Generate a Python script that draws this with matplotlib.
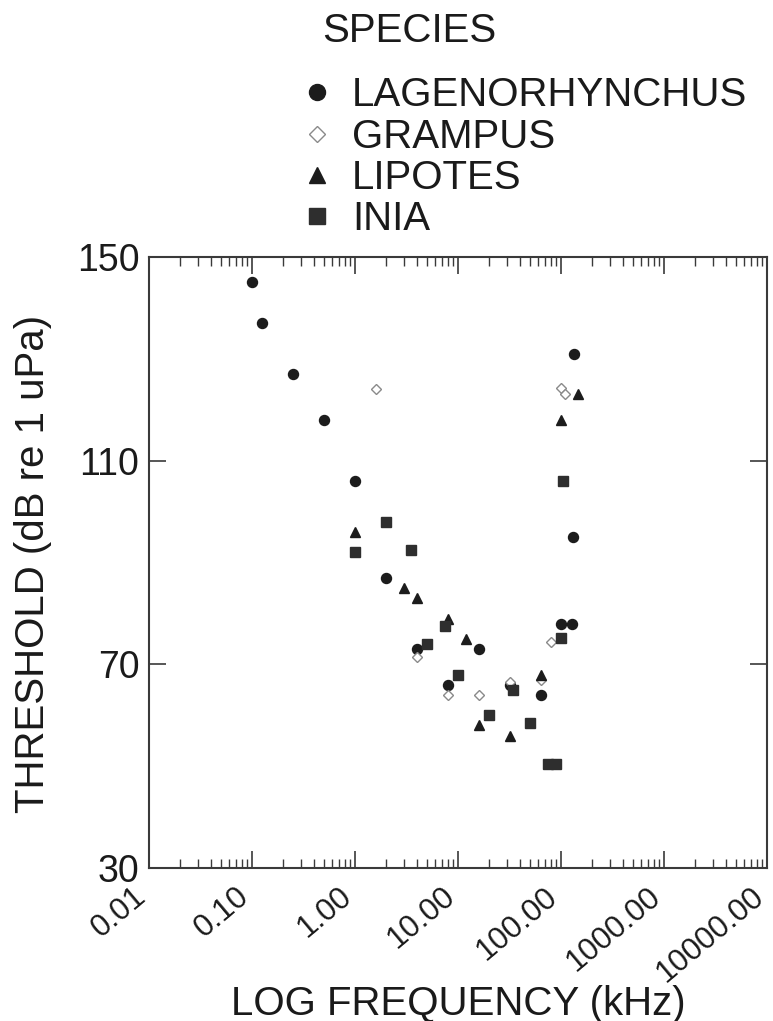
import matplotlib
matplotlib.use("Agg")
import matplotlib.pyplot as plt
import matplotlib.transforms as mtransforms
from matplotlib.ticker import LogLocator, FixedLocator, NullFormatter, FixedFormatter

plt.rcParams['font.family'] = ['Liberation Sans', 'DejaVu Sans']

# ---- data (kHz, dB re 1 uPa) ----
lag_freq = [0.1, 0.125, 0.25, 0.5, 1, 2, 4, 8, 16, 32, 64, 100, 128, 130, 135]
lag_thr = [145, 137, 127, 118, 106, 87, 73, 66, 73, 66, 64, 78, 78, 95, 131]

gra_freq = [1.6, 4, 8, 16, 32, 64, 80, 100, 109]
gra_thr = [124, 71.5, 64, 64, 66.6, 67, 74.3, 124.2, 123]

lip_freq = [1, 3, 4, 8, 12, 16, 32, 64, 100, 147]
lip_thr = [96, 85, 83, 79, 75, 58, 56, 68, 118, 123]

ini_freq = [1, 2, 3.5, 5, 7.5, 10, 20, 34, 50, 75, 90, 100, 104]
ini_thr = [92, 98, 92.5, 74, 77.5, 68, 60, 65, 58.5, 50.5, 50.5, 75.2, 106]

species = ["LAGENORHYNCHUS", "GRAMPUS", "LIPOTES", "INIA"]
x_ticks = [0.01, 0.1, 1, 10, 100, 1000, 10000]
x_tick_labels = ["0.01", "0.10", "1.00", "10.00", "100.00", "1000.00", "10000.00"]
y_ticks = [30, 70, 110, 150]

W, H = 773, 1021
fig = plt.figure(figsize=(W / 100, H / 100), dpi=100)
ax = fig.add_axes([149 / W, 1 - 868 / H, 618 / W, 611 / H])

dark = "#1c1c1c"
ax.plot(lag_freq, lag_thr, linestyle="none", marker="o", markersize=7.2,
        color=dark, mec=dark, label=species[0])
ax.plot(gra_freq, gra_thr, linestyle="none", marker="D", markersize=5.4,
        mfc="white", mec="#8a8a8a", mew=1.0, label=species[1])
ax.plot(lip_freq, lip_thr, linestyle="none", marker="^", markersize=7.2,
        color=dark, mec=dark, label=species[2])
ax.plot(ini_freq, ini_thr, linestyle="none", marker="s", markersize=7.0,
        color="#2e2e2e", mec="#2e2e2e", label=species[3])

ax.set_xscale("log")
ax.set_xlim(0.01, 10000)
ax.set_ylim(30, 150)

ax.xaxis.set_major_locator(FixedLocator(x_ticks))
ax.xaxis.set_major_formatter(FixedFormatter(x_tick_labels))
ax.xaxis.set_minor_locator(LogLocator(base=10, subs=range(2, 10), numticks=20))
ax.xaxis.set_minor_formatter(NullFormatter())
ax.set_yticks(y_ticks)
ax.set_yticklabels([str(v) for v in y_ticks])

spine_c = "#3a3a3a"
for s in ax.spines.values():
    s.set_color(spine_c)
    s.set_linewidth(1.5)

ax.tick_params(axis="both", which="major", direction="in", length=12.5,
               width=1.2, color=spine_c, top=True, right=True)
ax.tick_params(axis="x", which="minor", direction="in", length=6.5,
               width=1.0, color=spine_c, top=True, bottom=True)
ax.tick_params(axis="y", labelsize=27, pad=7, labelcolor="#1a1a1a")
ax.tick_params(axis="x", labelsize=22.5, pad=18, labelcolor="#1a1a1a")
offset = mtransforms.ScaledTranslation(-5 / 72, 0, fig.dpi_scale_trans)
for lbl in ax.get_xticklabels():
    lbl.set_rotation(40)
    lbl.set_ha("right")
    lbl.set_va("center")
    lbl.set_rotation_mode("anchor")
    lbl.set_transform(lbl.get_transform() + offset)

ax.set_xlabel("LOG FREQUENCY (kHz)", fontsize=29, color="#1a1a1a")
ax.xaxis.set_label_coords(0.5, (868 - 1015) / 611)
ax.xaxis.label.set_va("baseline")
ax.set_ylabel("THRESHOLD (dB re 1 uPa)", fontsize=29, color="#1a1a1a")
ax.yaxis.set_label_coords((33 - 149) / 618, 0.497)
ax.yaxis.label.set_va("center")

# legend
leg = ax.legend(loc="lower left", bbox_to_anchor=(0.249, 1.031),
                frameon=False, fontsize=29, markerscale=1.6,
                handlelength=0.7, handletextpad=0.52, labelspacing=0.08,
                borderaxespad=0.0, borderpad=0.0)
for t in leg.get_texts():
    t.set_color("#1a1a1a")
fig.text(322 / W, 1 - 42 / H, "SPECIES", fontsize=29, color="#1a1a1a",
         ha="left", va="baseline")

fig.savefig("out.png", dpi=100)
